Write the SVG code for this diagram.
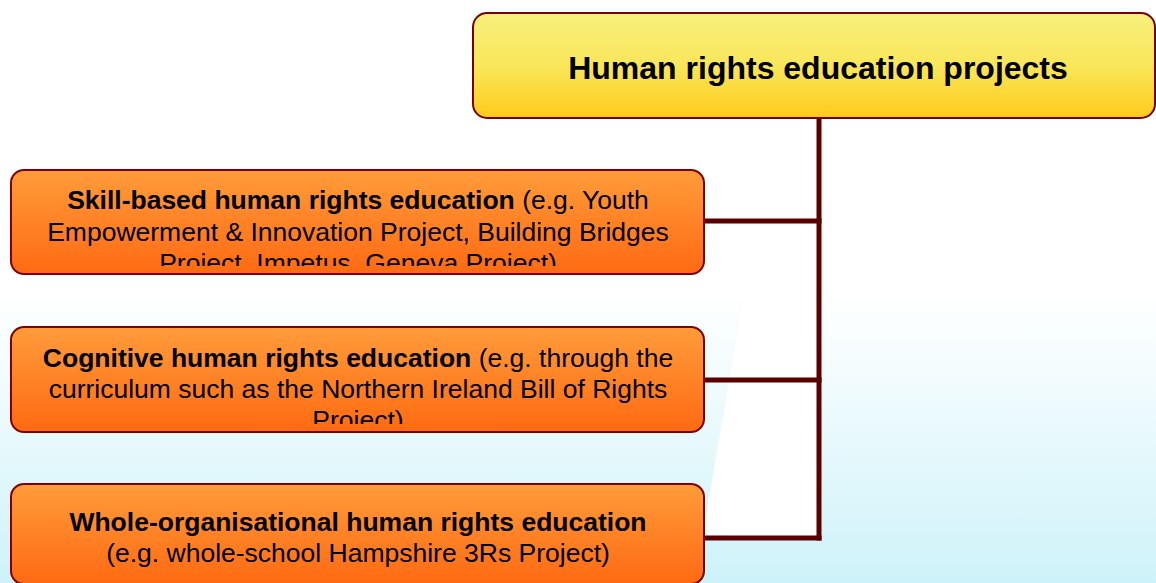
<svg xmlns="http://www.w3.org/2000/svg" width="1156" height="583" viewBox="0 0 1156 583">
<defs>
<linearGradient id="bg" x1="0" y1="0" x2="0" y2="1">
<stop offset="0" stop-color="#ffffff"/>
<stop offset="0.35" stop-color="#f0fbfd"/>
<stop offset="1" stop-color="#cdf2f9"/>
</linearGradient>
<linearGradient id="yel" x1="0" y1="0" x2="0" y2="1">
<stop offset="0" stop-color="#f7f07e"/>
<stop offset="0.5" stop-color="#f9e65a"/>
<stop offset="1" stop-color="#ffcb1a"/>
</linearGradient>
<linearGradient id="org" x1="0" y1="0" x2="0" y2="1">
<stop offset="0" stop-color="#ff9c3a"/>
<stop offset="1" stop-color="#ff6a12"/>
</linearGradient>
<clipPath id="c1"><rect x="11" y="170" width="693" height="96"/></clipPath>
<clipPath id="c2"><rect x="11" y="327" width="693" height="97"/></clipPath>
</defs>
<style>
.box{fill:url(#org);stroke:#800000;stroke-width:2}
.top{fill:url(#yel);stroke:#7a0000;stroke-width:2}
.t{font-family:"Liberation Sans",Arial,sans-serif;font-size:26.5px;fill:#000;text-anchor:middle}
.b{font-weight:bold}
.title{font-family:"Liberation Sans",Arial,sans-serif;font-size:32px;font-weight:bold;fill:#000;text-anchor:middle}
.con{fill:none;stroke:#5a0000;stroke-width:5}
</style>
<rect x="0" y="0" width="1156" height="583" fill="#ffffff"/>
<rect x="0" y="290" width="1156" height="293" fill="url(#bg)"/>
<polygon points="745,290 819,290 819,538 702,538" fill="#ffffff"/>
<g id="connectors">
<path class="con" d="M819,118 V540.5"/>
<path class="con" d="M704,221 H821.5"/>
<path class="con" d="M704,380 H821.5"/>
<path class="con" d="M704,538 H821.5"/>
</g>
<g id="root">
<rect class="top" x="473" y="13" width="682" height="105" rx="14"/>
<text class="title" x="818" y="79">Human rights education projects</text>
</g>
<g id="skill">
<rect class="box" x="11" y="170" width="693" height="104" rx="13"/>
<g clip-path="url(#c1)">
<text class="t" x="358" y="209"><tspan class="b">Skill-based human rights education</tspan> (e.g. Youth</text>
<text class="t" x="358" y="241">Empowerment &amp; Innovation Project, Building Bridges</text>
<text class="t" x="358" y="272">Project, Impetus, Geneva Project)</text>
</g>
</g>
<g id="cognitive">
<rect class="box" x="11" y="327" width="693" height="105" rx="13"/>
<g clip-path="url(#c2)">
<text class="t" x="358" y="367"><tspan class="b">Cognitive human rights education</tspan> (e.g. through the</text>
<text class="t" x="358" y="398">curriculum such as the Northern Ireland Bill of Rights</text>
<text class="t" x="358" y="429">Project)</text>
</g>
</g>
<g id="whole">
<rect class="box" x="11" y="484" width="693" height="100" rx="13"/>
<text class="t b" x="358" y="531">Whole-organisational human rights education</text>
<text class="t" x="358" y="562">(e.g. whole-school Hampshire 3Rs Project)</text>
</g>
</svg>
